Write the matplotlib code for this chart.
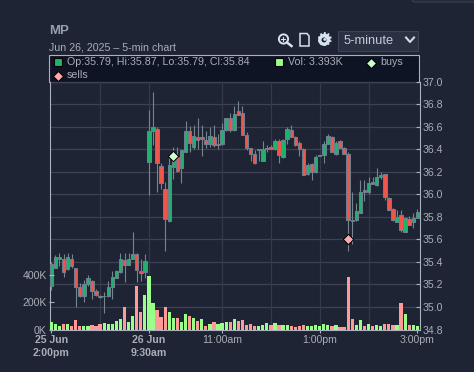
import matplotlib
matplotlib.use('Agg')
import matplotlib.pyplot as plt
from matplotlib.patches import Rectangle, Circle, Polygon, FancyBboxPatch

plt.rcParams['font.family'] = ['Liberation Sans', 'DejaVu Sans']

opens = [35.19,35.35,35.43,35.43,35.34,35.43,35.35,35.18,35.10,35.20,35.23,35.14,35.10,35.10,35.10,35.18,
         35.26,35.31,35.42,35.37,35.43,35.47,35.32,35.31,36.29,36.56,36.58,36.25,36.05,35.76,36.24,36.33,
         36.23,36.38,36.56,36.42,36.51,36.51,36.48,36.45,36.51,36.44,36.45,36.57,36.68,36.57,36.74,36.72,
         36.53,36.41,36.36,36.39,36.30,36.41,36.42,36.40,36.47,36.33,36.49,36.57,36.51,36.46,36.40,36.18,
         36.27,36.20,36.34,36.35,36.45,36.51,36.36,36.47,36.41,36.36,35.76,35.77,35.83,36.04,36.02,36.11,
         36.08,36.15,36.18,35.97,35.87,35.75,35.82,35.67,35.78,35.75,35.79]
highs = [35.40,35.46,35.48,35.47,35.48,35.47,35.35,35.21,35.24,35.28,35.24,35.16,35.11,35.13,35.23,35.32,
         35.33,35.48,35.48,35.48,35.67,35.48,35.43,35.47,36.75,36.91,36.60,36.28,36.11,36.32,36.42,36.42,
         36.39,36.65,36.61,36.62,36.68,36.62,36.56,36.60,36.62,36.54,36.63,36.68,36.72,36.78,36.83,36.78,
         36.55,36.41,36.39,36.40,36.47,36.44,36.44,36.49,36.49,36.49,36.60,36.62,36.52,36.47,36.41,36.28,
         36.28,36.35,36.35,36.47,36.54,36.52,36.47,36.48,36.42,36.38,36.02,35.92,36.13,36.13,36.15,36.15,
         36.23,36.20,36.18,35.98,35.88,35.86,35.86,35.80,35.81,35.83,35.87]
lows = [35.15,35.35,35.36,35.27,35.33,35.35,35.00,35.09,35.04,35.19,35.07,35.10,35.08,34.95,35.09,35.07,
        35.26,35.30,35.22,35.37,35.43,35.22,35.23,35.26,35.99,36.44,36.02,36.05,35.50,35.75,36.14,36.20,
        36.10,36.38,36.38,36.40,36.40,36.34,36.41,36.42,36.42,36.40,36.44,36.56,36.55,36.56,36.70,36.53,
        36.39,36.30,36.27,36.30,36.30,36.38,36.40,36.39,36.28,36.32,36.45,36.51,36.43,36.34,36.17,36.17,
        36.13,36.19,36.34,36.28,36.45,36.38,36.35,36.41,36.36,35.50,35.56,35.76,35.83,35.94,36.00,36.09,
        36.07,36.14,35.95,35.86,35.76,35.75,35.67,35.67,35.73,35.70,35.79]
closes = [35.38,35.44,35.44,35.31,35.44,35.36,35.18,35.10,35.20,35.26,35.14,35.11,35.09,35.10,35.18,35.27,
          35.32,35.43,35.37,35.43,35.47,35.33,35.30,35.41,36.56,36.60,36.28,36.10,35.78,36.26,36.33,36.21,
          36.39,36.56,36.46,36.52,36.48,36.49,36.45,36.52,36.44,36.45,36.57,36.68,36.57,36.71,36.70,36.53,
          36.41,36.36,36.28,36.40,36.40,36.40,36.40,36.47,36.35,36.48,36.58,36.51,36.44,36.40,36.17,36.26,
          36.20,36.33,36.35,36.45,36.52,36.38,36.46,36.41,36.36,35.77,35.77,35.85,36.02,36.02,36.10,36.09,
          36.15,36.17,35.98,35.86,35.77,35.80,35.68,35.79,35.73,35.79,35.84]

volumes = [54,39,24,39,39,24,68,29,24,24,32,24,39,46,39,39,61,76,163,54,98,325,127,259,398,193,141,90,163,127,83,83,
           54,112,98,83,61,76,24,39,54,39,46,54,54,76,61,68,32,39,24,24,32,46,32,46,32,32,32,24,17,24,32,24,
           24,32,24,39,32,24,32,17,17,390,76,32,68,24,39,24,32,24,39,39,32,32,193,112,32,32,24]
vol_colors = list('gggrgrrrgg' 'rrrgggggrg' 'grrgggrrrg' 'grggrgrgrg' 'rgggrgrrrr'
                  'rgggrgrggr' 'rrrggggggr' 'grrrrggrgr' 'ggrrrgrgrg' 'g')

buy_idx = [30]
buy_price = [36.34]
sell_idx = [73]
sell_price = [35.60]

price_ticks = [34.8,35.0,35.2,35.4,35.6,35.8,36.0,36.2,36.4,36.6,36.8,37.0]
vol_ticks = [0,200,400]
vol_labels = ['0K','200K','400K']
time_ticks = [0,24,42,66,90]
time_labels = ['25 Jun\n2:00pm','26 Jun\n9:30am','11:00am','1:00pm','3:00pm']
time_grid = [12,24,42,54,66,78]

BG = '#1e2433'
TXT = '#a9aeb8'
UP = '#1fb26e'
DOWN = '#f2554a'
EDGE = '#6d7f8f'
W, H = 474, 372

fig = plt.figure(figsize=(W/100, H/100), dpi=100, facecolor=BG)

# pixel overlay for the header, band and controls
bg = fig.add_axes([0,0,1,1], zorder=0)
bg.set_xlim(0,W); bg.set_ylim(H,0); bg.axis('off')
bg.add_patch(FancyBboxPatch((412,-8),80,10,boxstyle='round,pad=0,rounding_size=3',fc='#232a3a',ec='#3a4254',lw=0.8))
bg.text(49,31.5,'MP',color='#9aa1ad',fontsize=9.5,fontweight='bold',va='center')
bg.text(49,47,'Jun 26, 2025 \u2013 5-min chart',color=TXT,fontsize=7.7,va='center')
bg.add_patch(Rectangle((49.5,54.5),370,27,fc='#0f1424',ec='#aab2c0',lw=0.8))
bg.add_patch(Rectangle((54,58),8,8,fc=UP,ec='black',lw=0.8))
bg.text(67,62,'Op:35.79, Hi:35.87, Lo:35.79, Cl:35.84',color=TXT,fontsize=7.7,va='center')
bg.add_patch(Rectangle((275.5,58),8,8,fc='#99ff88',ec='black',lw=0.8))
bg.text(288,62,'Vol: 3.393K',color=TXT,fontsize=7.7,va='center')
bg.plot([371],[62.5],marker='D',ms=5.2,mfc='#ccffcc',mec='black',mew=0.7)
bg.text(380,62,'buys',color=TXT,fontsize=7.7,va='center')
bg.plot([58.5],[75.5],marker='D',ms=5.2,mfc='#ffaaaa',mec='black',mew=0.7)
bg.text(67,75.5,'sells',color=TXT,fontsize=7.7,va='center')

# toolbar icons
ICON = '#d5e2f0'
bg.add_patch(Circle((283.5,39),4.6,fc='none',ec=ICON,lw=1.4))
bg.plot([287,291.5],[42.5,46],color=ICON,lw=1.8)
bg.plot([281.5,285.5],[39,39],color=ICON,lw=0.8)
bg.plot([283.5,283.5],[37,41],color=ICON,lw=0.8)
bg.add_patch(Polygon([(300,33.5),(307,33.5),(309,36),(309,46),(300,46)],fc='none',ec=ICON,lw=1.1))
bg.add_patch(Circle((324,40),4.2,fc='none',ec=ICON,lw=2.4))
bg.text(324,40,'\u2699',color=ICON,fontsize=14,ha='center',va='center',family='DejaVu Sans',fontweight='bold')
bg.add_patch(Rectangle((338.5,30.5),79.5,20,fc='#2a3142',ec='#3b4356',lw=0.8))
bg.text(343.5,41,'5-minute',color='#c3cbd6',fontsize=9.3,va='center')
bg.plot([406,410,414],[37.5,42,37.5],color='#d5dbe4',lw=1.5)

# price axes
left, right = 49.5, 419.5
top, bottom = 81.7, 329.5
ax = fig.add_axes([left/W,1-bottom/H,(right-left)/W,(bottom-top)/H],zorder=1)
ax.set_facecolor('none')
ax.set_xlim((left-51.3)/4.067,(right-51.3)/4.067)
ax.set_ylim(34.8,37.0)

for p in price_ticks[1:]:
    ax.axhline(p,color='#3d4354',lw=0.9,zorder=1)
for t in time_grid:
    ax.axvline(t,color='#343a4a',lw=0.9,zorder=1)

for i in range(len(opens)):
    ax.vlines(i,lows[i],highs[i],color='#75858f',lw=0.8,zorder=2)
    low_body = min(opens[i],closes[i])
    tall = abs(closes[i]-opens[i])
    col = UP if closes[i] >= opens[i] else DOWN
    ax.bar(i,tall,bottom=low_body,width=0.85,color=col,edgecolor=EDGE,linewidth=0.75,zorder=3)

ax.scatter(buy_idx,buy_price,marker='D',s=28,c='#ccffcc',edgecolors='black',linewidths=0.7,zorder=5)
ax.scatter(sell_idx,sell_price,marker='D',s=28,c='#ffaaaa',edgecolors='black',linewidths=0.7,zorder=5)

# volume on its own scale
ax2 = ax.twinx()
ax2.set_zorder(2)
ax2.patch.set_visible(False)
ax2.set_ylim(0,1835)
ax2.yaxis.tick_left()
ax2.set_yticks(vol_ticks)
ax2.set_yticklabels(vol_labels)
ax2.tick_params(axis='y',direction='in',length=3.5,width=0.8,color='#aab2c0',labelcolor=TXT,labelsize=7.6,pad=2)
for s in ax2.spines.values():
    s.set_visible(False)
for i in range(len(volumes)):
    ax2.bar(i,volumes[i],width=0.8,color='#99ff88' if vol_colors[i]=='g' else '#ff9a9a',linewidth=0)

# twinx moves the price ticks, so set them up after it
ax.yaxis.tick_right()
ax.set_yticks(price_ticks)
ax.set_yticklabels(['%.1f' % p for p in price_ticks])
ax.tick_params(axis='y',direction='in',length=3,width=0.8,color='#aab2c0',labelcolor=TXT,labelsize=7.6,pad=2.3)
ax.set_xticks(time_ticks)
ax.set_xticklabels(time_labels,linespacing=1.35)
ax.tick_params(axis='x',direction='out',length=2.5,width=0.8,color='#aab2c0',labelcolor=TXT,labelsize=7.6,pad=1.5)
for lab in ax.get_xticklabels()[:2]:
    lab.set_fontweight('bold')
for s in ax.spines.values():
    s.set_color('#aab2c0')
    s.set_linewidth(0.8)
ax.spines['top'].set_visible(False)

fig.savefig('out.png',dpi=100,facecolor=BG)
